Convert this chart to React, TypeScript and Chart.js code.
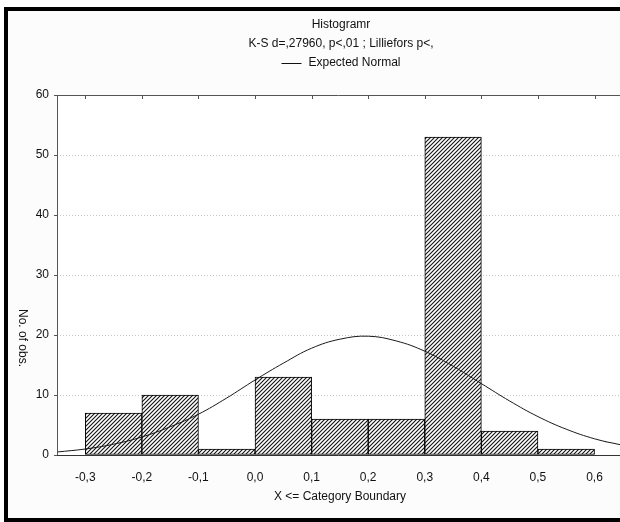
import React, { useEffect, useRef } from "react";
import { Chart, registerables } from "chart.js";

Chart.register(...registerables);

// Histogram bins (centres) and counts
const binCenters = [-0.25, -0.15, -0.05, 0.05, 0.15, 0.25, 0.35, 0.45, 0.55];
const binCounts = [7, 10, 1, 13, 6, 6, 53, 4, 1];

// Expected normal curve
const curveX = [-0.35, -0.3, -0.25, -0.2, -0.15, -0.1, -0.05, 0.0, 0.05, 0.1, 0.15, 0.2, 0.25, 0.3, 0.35, 0.4, 0.45, 0.5, 0.55, 0.6, 0.65];
const curveY = [0.5, 1.0, 1.8, 3.0, 4.7, 6.8, 9.5, 12.5, 15.3, 17.8, 19.3, 19.8, 19.0, 17.3, 14.8, 11.9, 9.0, 6.4, 4.3, 2.7, 1.6];

// Axis ticks
const xTickValues = [-0.3, -0.2, -0.1, 0.0, 0.1, 0.2, 0.3, 0.4, 0.5, 0.6];
const xTickLabels = ["-0,3", "-0,2", "-0,1", "0,0", "0,1", "0,2", "0,3", "0,4", "0,5", "0,6"];
const yTickValues = [0, 10, 20, 30, 40, 50, 60];

const titleLine1 = "Histogramr";
const titleLine2 = "K-S d=,27960, p<,01 ; Lilliefors p<,";
const legendLabel = "Expected Normal";
const xAxisTitle = "X <= Category Boundary";
const yAxisTitle = "No. of obs.";

const FONT = "'Liberation Sans', Arial, sans-serif";

function makeHatch(): CanvasPattern | string {
  const c = document.createElement("canvas");
  c.width = 4;
  c.height = 4;
  const g = c.getContext("2d");
  if (!g) return "#888";
  g.fillStyle = "#ffffff";
  g.fillRect(0, 0, 4, 4);
  g.strokeStyle = "#111";
  g.lineWidth = 1.1;
  g.beginPath();
  g.moveTo(0, 4);
  g.lineTo(4, 0);
  g.moveTo(-1, 1);
  g.lineTo(1, -1);
  g.moveTo(3, 5);
  g.lineTo(5, 3);
  g.stroke();
  const p = g.createPattern(c, "repeat");
  return p || "#888";
}

const decorPlugin = {
  id: "decor",
  beforeDraw(chart: any) {
    const ctx = chart.ctx;
    const W = 620;
    const H = 522;
    ctx.save();
    ctx.fillStyle = "#ffffff";
    ctx.fillRect(0, 0, W, H);
    ctx.fillStyle = "#fcfcfc";
    ctx.fillRect(8, 11, W - 8, H - 15);
    ctx.fillStyle = "#000";
    ctx.fillRect(4, 7, 4, H - 7);
    ctx.fillRect(4, 7, W - 4, 4);
    ctx.fillRect(4, H - 4, W - 4, 4);
    const a = chart.chartArea;
    ctx.fillStyle = "#ffffff";
    ctx.fillRect(a.left, a.top, a.right - a.left, a.bottom - a.top);
    ctx.restore();
  },
  afterDraw(chart: any) {
    const ctx = chart.ctx;
    const a = chart.chartArea;
    const xs = chart.scales.x;
    const ys = chart.scales.y;
    ctx.save();
    ctx.setTransform(1, 0, 0, 1, 0, 0);

    // clean the right strip and redraw what belongs there
    const sx = 606;
    const sw = 14;
    ctx.fillStyle = "#000";
    ctx.fillRect(sx, 7, sw, 4);
    ctx.fillRect(sx, 518, sw, 4);
    ctx.fillStyle = "#fcfcfc";
    ctx.fillRect(sx, 11, sw, a.top - 11);
    ctx.fillRect(sx, a.bottom, sw, 518 - a.bottom);
    ctx.fillStyle = "#ffffff";
    ctx.fillRect(sx, a.top, sw, a.bottom - a.top);
    ctx.strokeStyle = "#c8c8c8";
    ctx.lineWidth = 1;
    ctx.setLineDash([1, 2]);
    ctx.beginPath();
    yTickValues.forEach((v) => {
      if (v === 0 || v === 60) return;
      const py = Math.round(ys.getPixelForValue(v)) + 0.5;
      ctx.moveTo(sx, py);
      ctx.lineTo(620, py);
    });
    ctx.stroke();
    ctx.setLineDash([]);
    try {
      const el = chart.getDatasetMeta(0).dataset;
      const xsList = [sx - 1, sx + 4, sx + 9, 620];
      const pts = xsList.map((px) => el.interpolate({ x: px }, "x")).filter((p: any) => p);
      if (pts.length > 1) {
        ctx.strokeStyle = "#1a1a1a";
        ctx.beginPath();
        ctx.moveTo(pts[0].x, pts[0].y);
        for (let i = 1; i < pts.length; i++) ctx.lineTo(pts[i].x, pts[i].y);
        ctx.stroke();
      }
    } catch (e) {
      /* ignore */
    }

    // axes lines
    ctx.strokeStyle = "#555";
    ctx.lineWidth = 1;
    ctx.beginPath();
    ctx.moveTo(a.left + 0.5, a.top);
    ctx.lineTo(a.left + 0.5, a.bottom);
    ctx.moveTo(a.left, a.top + 0.5);
    ctx.lineTo(620, a.top + 0.5);
    ctx.stroke();
    ctx.strokeStyle = "#333";
    ctx.beginPath();
    ctx.moveTo(a.left, a.bottom + 0.5);
    ctx.lineTo(620, a.bottom + 0.5);
    ctx.stroke();
    ctx.strokeStyle = "#555";
    ctx.beginPath();
    xTickValues.forEach((v) => {
      const px = Math.round(xs.getPixelForValue(v)) + 0.5;
      ctx.moveTo(px, a.top);
      ctx.lineTo(px, a.top + 4);
    });
    yTickValues.forEach((v) => {
      const py = Math.round(ys.getPixelForValue(v)) + 0.5;
      ctx.moveTo(a.left - 3, py);
      ctx.lineTo(a.left, py);
    });
    ctx.stroke();

    // titles and legend
    const cx = 341;
    ctx.fillStyle = "#111";
    ctx.font = `12px ${FONT}`;
    ctx.textAlign = "center";
    ctx.textBaseline = "middle";
    ctx.fillText(titleLine1, cx, 25);
    ctx.fillText(titleLine2, cx, 44);
    ctx.textAlign = "left";
    const lw = ctx.measureText(legendLabel).width;
    const total = 20 + 7 + lw;
    const lx = cx - total / 2;
    ctx.strokeStyle = "#111";
    ctx.beginPath();
    ctx.moveTo(lx, 63.5);
    ctx.lineTo(lx + 20, 63.5);
    ctx.stroke();
    ctx.fillText(legendLabel, lx + 27, 63);
    ctx.textAlign = "center";
    ctx.fillText(xAxisTitle, 340, 497);
    ctx.translate(22, 338);
    ctx.rotate(Math.PI / 2);
    ctx.fillText(yAxisTitle, 0, 0);
    ctx.restore();
  },
};

export default function App() {
  const ref = useRef<HTMLCanvasElement | null>(null);
  useEffect(() => {
    document.body.style.margin = "0";
    const canvas = ref.current;
    if (!canvas) return;
    const hatch = makeHatch();
    const chart = new Chart(canvas, {
      type: "bar",
      data: {
        datasets: [
          {
            type: "line",
            label: legendLabel,
            data: curveX.map((x, i) => ({ x, y: curveY[i] })),
            borderColor: "#1a1a1a",
            borderWidth: 1,
            pointRadius: 0,
            tension: 0.4,
            fill: false,
            order: 0,
          } as any,
          {
            type: "bar",
            label: "Counts",
            data: binCenters.map((x, i) => ({ x, y: binCounts[i] })),
            backgroundColor: hatch as any,
            borderColor: "#000",
            borderWidth: 1,
            borderSkipped: false,
            barPercentage: 1,
            categoryPercentage: 1,
            order: 1,
          } as any,
        ],
      },
      options: {
        animation: false,
        responsive: false,
        maintainAspectRatio: false,
        devicePixelRatio: 1,
        layout: { padding: { top: 95, left: 0, right: 0, bottom: 0 } },
        plugins: {
          legend: { display: false },
          title: { display: false },
          tooltip: { enabled: false },
        },
        scales: {
          x: {
            type: "linear",
            min: -0.35,
            max: 0.645,
            offset: false,
            grid: { display: false, offset: false },
            border: { display: false },
            afterBuildTicks: (s: any) => {
              s.ticks = xTickValues.map((v) => ({ value: v }));
            },
            afterFit: (s: any) => {
              s.height = 67;
            },
            ticks: {
              autoSkip: false,
              maxRotation: 0,
              padding: 7,
              color: "#111",
              font: { family: FONT, size: 12 },
              callback: (_v: any, i: number) => xTickLabels[i],
            },
          },
          y: {
            min: 0,
            max: 60,
            grid: {
              color: (c: any) => (c.tick && (c.tick.value === 0 || c.tick.value === 60) ? "rgba(0,0,0,0)" : "#c8c8c8"),
              drawTicks: false,
            } as any,
            border: { display: false, dash: [1, 2] },
            afterFit: (s: any) => {
              s.width = 57;
            },
            afterBuildTicks: (s: any) => {
              s.ticks = yTickValues.map((v) => ({ value: v }));
            },
            ticks: {
              padding: 8,
              color: "#111",
              font: { family: FONT, size: 12 },
            },
          },
        },
      } as any,
      plugins: [decorPlugin],
    });
    return () => chart.destroy();
  }, []);
  return (
    <canvas ref={ref} width={620} height={522} style={{ display: "block", width: 620, height: 522 }} />
  );
}
